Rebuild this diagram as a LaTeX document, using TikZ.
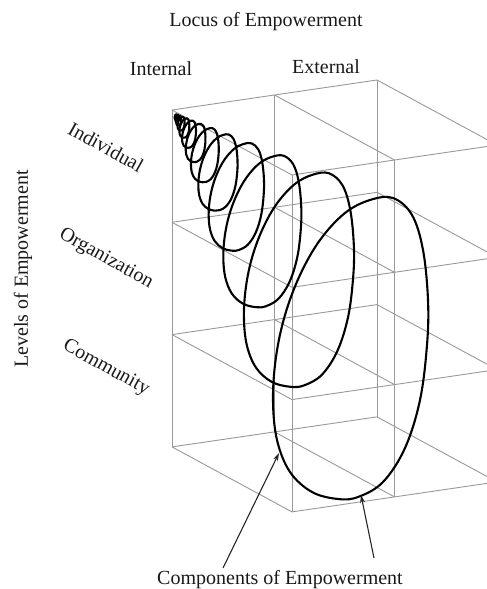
\documentclass[tikz,border=0pt]{standalone}
\usepackage{fontspec}
\setmainfont{Liberation Serif}
\usetikzlibrary{arrows.meta}
\begin{document}
\begin{tikzpicture}[x=1pt,y=-1pt,
  gridln/.style={draw=black!40, line width=0.9pt},
  spiralline/.style={draw=black, line width=2.1pt},
  lbl/.style={font=\fontsize{20}{24}\selectfont, inner sep=0pt, text=black!90},
  pointer/.style={draw=black!85, line width=1.1pt, -{Stealth[length=8pt,width=5pt]}}]
\useasboundingbox (0,0) rectangle (487,589);
\begin{scope}
\clip (0,0) rectangle (487,589);
% wireframe grid: 2 columns x 3 rows x 1 depth
\foreach \i in {0,1,2}{
  \foreach \j in {0,1,2,3}{
    \foreach \d in {0,1}{
      \coordinate (g\i\j\d) at ({172+102.5*\i+120*\d},{110-15*\i+112.3*\j+65*\d});
    }}}
\foreach \d in {0,1}{\foreach \j in {0,1,2,3}{\draw[gridln] (g0\j\d) -- (g2\j\d);}}
\foreach \d in {0,1}{\foreach \i in {0,1,2}{\draw[gridln] (g\i0\d) -- (g\i3\d);}}
\foreach \i in {0,1,2}{\foreach \j in {0,1,2,3}{\draw[gridln] (g\i\j0) -- (g\i\j1);}}
% spiral of loops, each a copy of the largest one scaled about the apex
\coordinate (apex) at (173,113);
\foreach \s in {1, 0.7092, 0.503, 0.3567, 0.253, 0.1794, 0.1273, 0.0902, 0.064, 0.0454, 0.0322, 0.0228, 0.0162}{
  \begin{scope}[shift={(apex)}, scale=\s]
    \draw[spiralline] plot[smooth cycle, tension=0.6] coordinates {
      (220,85) (239,102) (250,137) (255,187) (254,232) (247,287) (232,335)
      (210,369) (185,384) (165,386) (139,379) (117,359) (104,327) (100,287)
      (103,244) (112,202) (127,162) (147,127) (172,100) (197,87)};
  \end{scope}
}
\end{scope}
% labels
\node[lbl] (locus) at (266,22) {Locus of Empowerment};
\node[lbl] (internal) at (161,69) {Internal};
\node[lbl] (external) at (326,67) {External};
\node[lbl, rotate=-29] (indiv) at (106,147) {Individual};
\node[lbl, rotate=-29] (org) at (106,259) {Organization};
\node[lbl, rotate=-29] (comm) at (106,368) {Community};
\node[lbl, rotate=90] (levels) at (23,269) {Levels of Empowerment};
\node[lbl] (comps) at (280,580) {Components of Empowerment};
% pointers
\coordinate (p1s) at (223,568);
\coordinate (p1e) at (279,453);
\coordinate (p2s) at (374,558);
\coordinate (p2e) at (361,495);
\draw[pointer] (p1s) -- (p1e);
\draw[pointer] (p2s) -- (p2e);
\end{tikzpicture}
\end{document}
